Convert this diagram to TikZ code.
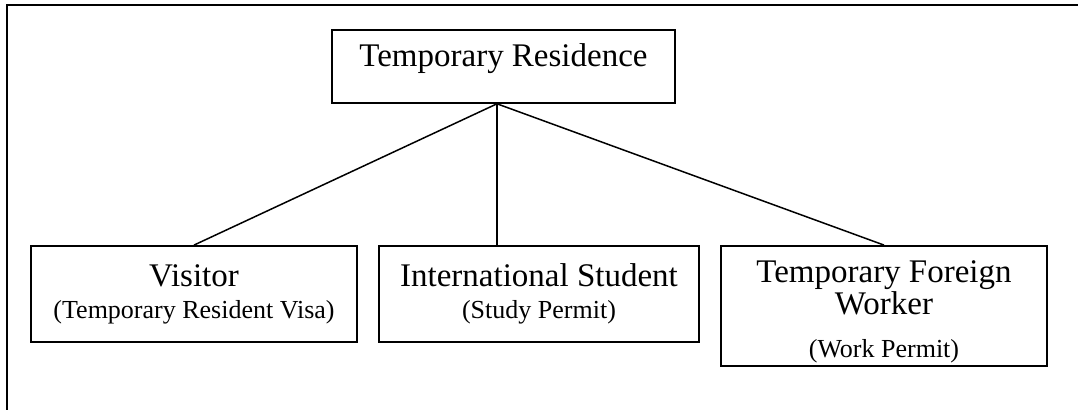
\documentclass[tikz,border=0pt]{standalone}
\usepackage{fontspec}
\setmainfont{Liberation Serif}
\tikzset{
  font={\fontsize{16.5pt}{14.5pt}\selectfont},
  box/.style={draw, line width=0.9pt, inner sep=0pt, align=center},
  link/.style={line width=0.75pt}}
\newcommand{\permit}[1]{{\fontsize{13pt}{14pt}\selectfont #1}}

\begin{document}
\begin{tikzpicture}[x=0.5pt,y=-0.5pt]
\useasboundingbox (0,0) rectangle (1078,410);
% frame, cut off at right and bottom
\draw [line width=0.6pt] (1078,5) -- (7,5) -- (7,410);
% root
\node [box, minimum width=171.5pt, text height=18.5pt, text depth=18pt, anchor=north] (res) at (503.5,29) {Temporary Residence};
% categories
\node [box, minimum width=163pt, minimum height=48pt] (visitor) at (194,294) {Visitor\\[1.5pt]\permit{(Temporary Resident Visa)}};
\node [box, minimum width=160pt, minimum height=48pt] (student) at (539,294) {International Student\\[1.5pt]\permit{(Study Permit)}};
\node [box, minimum width=163pt, minimum height=60pt] (worker) at (884,306) {\rule{0pt}{16.5pt}Temporary Foreign\\Worker\\[7pt]\permit{(Work Permit)}};
% links
\coordinate (hub) at ([xshift=-3.25pt]res.south);
\draw [link] (hub) -- (visitor.north);
\draw [link] (hub) -- (hub |- student.north);
\draw [link] (hub) -- (worker.north);
\end{tikzpicture}
\end{document}
